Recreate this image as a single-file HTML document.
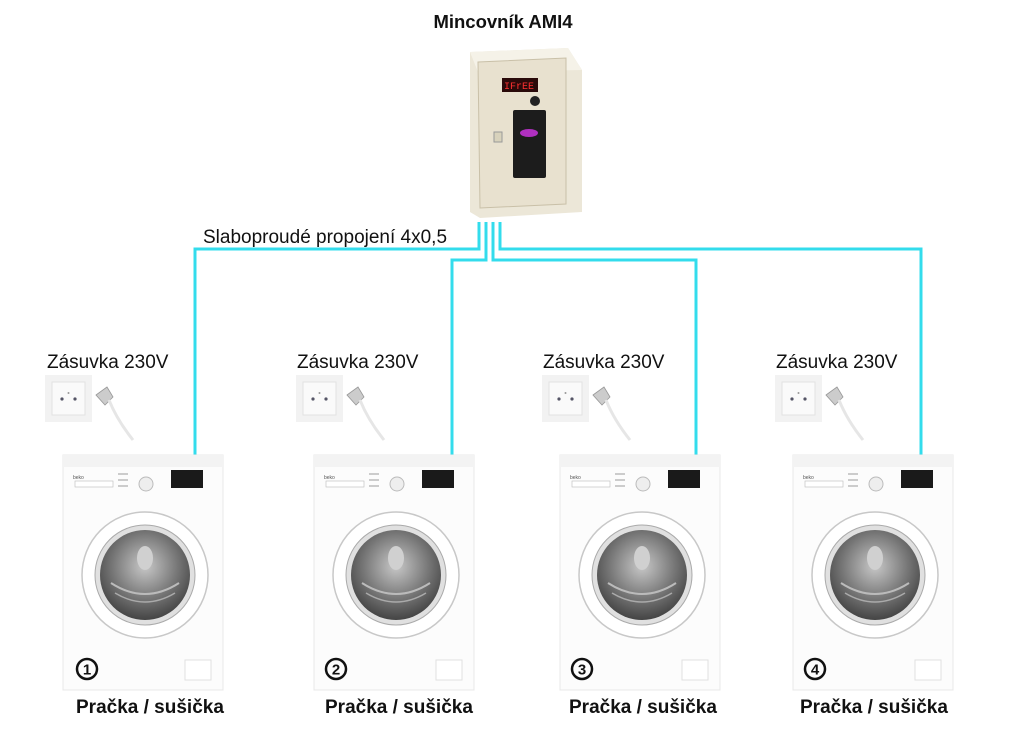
<!DOCTYPE html>
<html><head><meta charset="utf-8"><style>
html,body{margin:0;padding:0;background:#fff;}
svg{display:block;font-family:"Liberation Sans",sans-serif;}
</style></head><body>
<svg width="1024" height="731" viewBox="0 0 1024 731" xmlns="http://www.w3.org/2000/svg">
<defs>
<radialGradient id="drum" cx="50%" cy="40%" r="60%">
<stop offset="0" stop-color="#c8c8c8"/><stop offset="0.6" stop-color="#777"/><stop offset="1" stop-color="#444"/>
</radialGradient>
<g id="washer">
<rect x="0" y="0" width="160" height="235" fill="#fcfcfc" stroke="#e8e8e8"/>
<rect x="0" y="0" width="160" height="12" fill="#f3f3f3"/>
<rect x="12" y="26" width="38" height="6" fill="#fff" stroke="#bbb" stroke-width="0.6"/>
<text x="10" y="24" font-size="5" fill="#555">beko</text>
<circle cx="83" cy="29" r="7" fill="#eee" stroke="#bbb"/>
<rect x="108" y="15" width="32" height="18" fill="#1a1a1a"/>
<rect x="55" y="18" width="10" height="2" fill="#ccc"/><rect x="55" y="24" width="10" height="2" fill="#ccc"/><rect x="55" y="30" width="10" height="2" fill="#ccc"/>
<circle cx="82" cy="120" r="63" fill="#fff" stroke="#c8c8c8" stroke-width="1.5"/>
<circle cx="82" cy="120" r="50" fill="#e0e0e0" stroke="#aaa"/>
<circle cx="82" cy="120" r="45" fill="url(#drum)"/>
<ellipse cx="82" cy="103" rx="8" ry="12" fill="#d0d0d0"/>
<path d="M48 128 Q82 150 116 128" stroke="#bbb" stroke-width="2" fill="none"/>
<path d="M52 138 Q82 156 112 138" stroke="#aaa" stroke-width="1.5" fill="none"/>
<rect x="122" y="205" width="26" height="20" fill="#fff" stroke="#e0e0e0"/>
</g>
<g id="socket">
<rect x="0" y="0" width="47" height="47" fill="#f2f2f2"/>
<rect x="7" y="7" width="33" height="33" fill="#fafafa" stroke="#e2e2e2"/>
<circle cx="17" cy="24" r="1.6" fill="#556"/><circle cx="30" cy="24" r="1.6" fill="#556"/><circle cx="23.5" cy="18" r="1" fill="#999"/>
<path d="M51 20 L62 12 L68 22 L60 30 Z" fill="#ccc" stroke="#999" stroke-width="0.8"/>
<path d="M64 25 Q72 45 88 65" stroke="#e6e6e6" stroke-width="3" fill="none"/>
</g>
</defs>

<text x="503" y="28" font-size="18.5" font-weight="bold" text-anchor="middle" fill="#111">Mincovník AMI4</text>

<polygon points="470,52 568,48 582,70 582,212 480,218 470,212" fill="#ece7d8"/>
<polygon points="470,52 568,48 582,70 478,72" fill="#f5f2e8"/>
<polygon points="478,62 566,58 566,204 480,208" fill="#e8e1cf" stroke="#c9c0a8"/>
<rect x="502" y="78" width="36" height="14" fill="#2a0a0a"/>
<text x="504" y="89" font-size="10" fill="#ff3030" font-family="Liberation Mono,monospace">IFrEE</text>
<circle cx="535" cy="101" r="5" fill="#222"/>
<rect x="513" y="110" width="33" height="68" rx="2" fill="#1c1c1c"/>
<ellipse cx="529" cy="133" rx="9" ry="4" fill="#b030c0"/>
<rect x="494" y="132" width="8" height="10" fill="#d8d2bc" stroke="#999"/>

<g fill="none" stroke="#33dcec" stroke-width="3">
<polyline points="479,222 479,249 195,249 195,456"/>
<polyline points="486,222 486,260 452,260 452,456"/>
<polyline points="493,222 493,260 696,260 696,456"/>
<polyline points="500,222 500,249 921,249 921,456"/>
</g>
<text x="203" y="243" font-size="19" fill="#111">Slaboproudé propojení 4x0,5</text>

<g font-size="19" fill="#111">
<text x="47" y="368">Zásuvka 230V</text>
<text x="297" y="368">Zásuvka 230V</text>
<text x="543" y="368">Zásuvka 230V</text>
<text x="776" y="368">Zásuvka 230V</text>
</g>
<use href="#socket" x="45" y="375"/>
<use href="#socket" x="296" y="375"/>
<use href="#socket" x="542" y="375"/>
<use href="#socket" x="775" y="375"/>

<use href="#washer" x="63" y="455"/>
<use href="#washer" x="314" y="455"/>
<use href="#washer" x="560" y="455"/>
<use href="#washer" x="793" y="455"/>

<g font-size="15" font-weight="bold" text-anchor="middle" fill="#111">
<circle cx="87" cy="669" r="10" fill="none" stroke="#111" stroke-width="2.5"/><text x="87" y="674.5">1</text>
<circle cx="336" cy="669" r="10" fill="none" stroke="#111" stroke-width="2.5"/><text x="336" y="674.5">2</text>
<circle cx="582" cy="669" r="10" fill="none" stroke="#111" stroke-width="2.5"/><text x="582" y="674.5">3</text>
<circle cx="815" cy="669" r="10" fill="none" stroke="#111" stroke-width="2.5"/><text x="815" y="674.5">4</text>
</g>
<g font-size="19" font-weight="bold" fill="#111">
<text x="76" y="713">Pračka / sušička</text>
<text x="325" y="713">Pračka / sušička</text>
<text x="569" y="713">Pračka / sušička</text>
<text x="800" y="713">Pračka / sušička</text>
</g>
</svg>
</body></html>
